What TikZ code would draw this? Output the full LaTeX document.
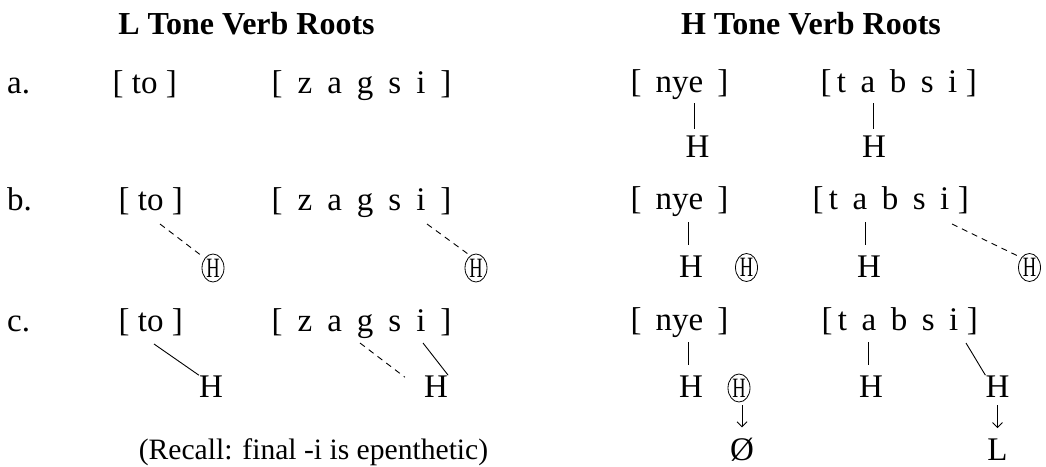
\documentclass[tikz,border=0pt]{standalone}
\usepackage{fontspec}
\setmainfont{Liberation Serif}
\usetikzlibrary{shapes.geometric,arrows.meta}
\newcommand\wsp{\hspace{15pt}}
\newcommand\nsp{\hspace{14pt}}
\newcommand\tsp{\hspace{14.5pt}}
\begin{document}
\begin{tikzpicture}[x=1pt,y=-1pt,
  txt/.style={anchor=base west,inner sep=0pt,font=\fontsize{33}{33}\selectfont},
  ttl/.style={anchor=base,inner sep=0pt,font=\fontsize{32}{32}\selectfont\bfseries},
  tone/.style={anchor=base,inner sep=0pt,font=\fontsize{33}{33}\selectfont},
  ctone/.style={ellipse,draw,line width=0.8pt,inner sep=0pt,minimum width=22pt,minimum height=28pt,font=\fontsize{28}{28}\selectfont},
  note/.style={anchor=base,inner sep=0pt,font=\fontsize{29.6}{30}\selectfont},
  assoc/.style={line width=0.9pt},
  spread/.style={line width=0.9pt,dash pattern=on 6pt off 5pt},
  chg/.style={line width=0.9pt,-{Straight Barb[length=5pt,width=10pt]}},
]
\useasboundingbox (0,0) rectangle (1046,466);
% titles
\node[ttl] (tL) at (246.5,34) {L Tone Verb Roots};
\node[ttl] (tH) at (811,34) {H Tone Verb Roots};
% row labels
\node[txt] (la) at (7,93) {a.};
\node[txt] (lb) at (7,210) {b.};
\node[txt] (lc) at (7,331) {c.};
% ---- row a ----
\node[txt] (toA) at (112.5,93) {[ to ]};
\node[txt] (zagA) at (271.5,93) {[\wsp z\wsp a\wsp g\wsp s\wsp i\wsp ]};
\node[txt] (nyeA) at (630.5,92) {[\nsp nye\nsp ]};
\node[txt] (tabA) at (820.3,92) {[\hspace{5.5pt}t\tsp a\tsp b\tsp s\tsp i\hspace{8.5pt}]};
\node[tone] (HnA) at (697.5,157) {H};
\node[tone] (HtA) at (874,157) {H};
\coordinate (cnA) at (694,103);
\coordinate (ctA) at (873,103);
\draw[assoc,shorten >=6pt] (cnA) -- (cnA |- HnA.north);
\draw[assoc,shorten >=6pt] (ctA) -- (ctA |- HtA.north);
% ---- row b ----
\node[txt] (toB) at (118.5,210) {[ to ]};
\node[txt] (zagB) at (271.5,210) {[\wsp z\wsp a\wsp g\wsp s\wsp i\wsp ]};
\node[txt] (nyeB) at (630.5,209) {[\nsp nye\nsp ]};
\node[txt] (tabB) at (812.3,209) {[\hspace{5.5pt}t\tsp a\tsp b\tsp s\tsp i\hspace{8.5pt}]};
\node[ctone] (cHtoB) at (213,268) {\scalebox{0.66}[1]{H}};
\node[ctone] (cHzB) at (476,268) {\scalebox{0.66}[1]{H}};
\node[ctone] (cHnB) at (746.5,267.5) {\scalebox{0.66}[1]{H}};
\node[ctone] (cHtB) at (1029.5,267.5) {\scalebox{0.66}[1]{H}};
\node[tone] (HnB) at (691,277) {H};
\node[tone] (HtB) at (869,277) {H};
\coordinate (ctoB) at (160,224);
\coordinate (czB) at (427,224);
\coordinate (ctiB) at (952,224);
\coordinate (cnB) at (688,222);
\coordinate (ctB) at (865,222);
\draw[spread,shorten >=2pt] (ctoB) -- (cHtoB.130);
\draw[spread,shorten >=2pt] (czB) -- (cHzB.115);
\draw[spread,shorten >=2pt] (ctiB) -- (cHtB.130);
\draw[assoc,shorten >=10pt] (cnB) -- (cnB |- HnB.north);
\draw[assoc,shorten >=10pt] (ctB) -- (ctB |- HtB.north);
% ---- row c ----
\node[txt] (toC) at (118.5,331) {[ to ]};
\node[txt] (zagC) at (271.5,331) {[\wsp z\wsp a\wsp g\wsp s\wsp i\wsp ]};
\node[txt] (nyeC) at (630.5,330) {[\nsp nye\nsp ]};
\node[txt] (tabC) at (821.3,330) {[\hspace{5.5pt}t\tsp a\tsp b\tsp s\tsp i\hspace{8.5pt}]};
\node[tone] (HtoC) at (211,397) {H};
\node[tone] (HzC) at (436,397) {H};
\node[tone] (HnC) at (691,397) {H};
\node[tone] (HtC) at (871,397) {H};
\node[tone] (HiC) at (997.5,397) {H};
\node[ctone] (cHnC) at (739,388) {\scalebox{0.66}[1]{H}};
\node[tone] (zero) at (742,460) {Ø};
\node[tone] (lowL) at (997.5,460) {L};
\coordinate (ctoC) at (154,344);
\coordinate (cgC) at (360,343);
\coordinate (ciC) at (423,343);
\coordinate (cnC) at (688,342);
\coordinate (ctC) at (868,342);
\coordinate (ctiC) at (966,343);
\draw[assoc] (ctoC) -- (HtoC.north west);
\draw[spread] (cgC) -- ([xshift=-19pt,yshift=-2pt]HzC.north west);
\draw[assoc] (ciC) -- (HzC.north east);
\draw[assoc,shorten >=10pt] (cnC) -- (cnC |- HnC.north);
\draw[assoc,shorten >=10pt] (ctC) -- (ctC |- HtC.north);
\draw[assoc] (ctiC) -- (HiC.north west);
\draw[chg,shorten <=3pt,shorten >=10pt] (cHnC.south -| zero) -- (zero.north);
\draw[chg,shorten <=8pt,shorten >=10pt] (HiC.south -| lowL) -- (lowL.north);
% note
\node[note] (note) at (313.5,459) {(Recall: final -i is epenthetic)};
\end{tikzpicture}
\end{document}
